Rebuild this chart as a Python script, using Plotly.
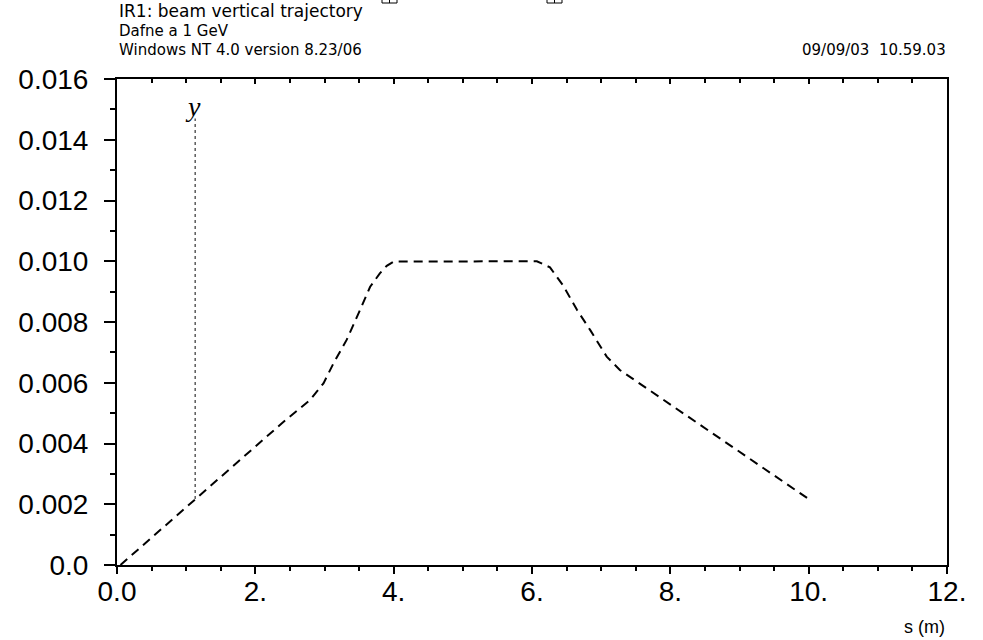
import plotly.graph_objects as go

# ---- data ----
s_traj = [0.05, 1.13, 2.38, 2.79, 2.985, 3.13, 3.32, 3.515, 3.66, 3.80, 3.90, 4.0,
          6.07, 6.26, 6.45, 6.65, 6.84, 7.08, 7.27, 10.02]
y_traj = [0.0, 0.00217, 0.00466, 0.00543, 0.00598, 0.00664, 0.00741, 0.0084, 0.00916,
          0.0096, 0.00985, 0.00999, 0.01, 0.0098, 0.0092, 0.0084, 0.00774, 0.00686,
          0.00642, 0.00214]
s_marker = [1.13, 1.13]
y_marker = [0.00217, 0.0147]

x_tickvals = [0, 2, 4, 6, 8, 10, 12]
x_ticktext = ["0.0", "2.", "4.", "6.", "8.", "10.", "12."]
y_tickvals = [0, 0.002, 0.004, 0.006, 0.008, 0.010, 0.012, 0.014, 0.016]
y_ticktext = ["0.0", "0.002", "0.004", "0.006", "0.008", "0.010", "0.012", "0.014", "0.016"]

title_lines = ["IR1: beam vertical trajectory", "Dafne a 1 GeV", "Windows NT 4.0 version 8.23/06"]
date_text = "09/09/03  10.59.03"
x_title = "s (m)"
curve_label = "y"

W, H = 983, 640
L, R, T, B = 117, 36, 79, 75
PW, PH = W - L - R, H - T - B

def py(p):  # pixel y -> paper y
    return (H - B - p) / PH

def px(p):  # pixel x -> paper x
    return (p - L) / PW

FONT = "Liberation Sans"
HEAD = "DejaVu Sans"

fig = go.Figure()
fig.add_trace(go.Scatter(x=s_traj, y=y_traj, mode="lines",
                         line=dict(color="black", width=2, dash="9px,6px"),
                         showlegend=False, hoverinfo="skip"))
fig.add_trace(go.Scatter(x=s_marker, y=y_marker, mode="lines", xaxis="x2",
                         line=dict(color="#333", width=1.2, dash="dot"),
                         showlegend=False, hoverinfo="skip"))

font_ticks = dict(family=FONT, size=28, color="black")

fig.update_layout(
    width=W, height=H,
    margin=dict(l=L, r=R, t=T, b=B, autoexpand=False),
    paper_bgcolor="white", plot_bgcolor="white",
    xaxis=dict(range=[0, 12], tickvals=x_tickvals, ticktext=x_ticktext,
               ticks="outside", ticklen=7, tickwidth=2, tickcolor="black",
               showline=True, linecolor="black", linewidth=2,
               showgrid=False, zeroline=False, tickfont=font_ticks,
               ticklabelstandoff=-7,
               minor=dict(dtick=0.5, ticks="outside", ticklen=4, tickwidth=2,
                          tickcolor="black", showgrid=False)),
    xaxis2=dict(range=[0, 12], overlaying="x", side="top", anchor="y",
                tickvals=x_tickvals, showticklabels=False,
                ticks="inside", ticklen=5, tickwidth=2, tickcolor="black",
                showline=True, linecolor="black", linewidth=2,
                showgrid=False, zeroline=False,
                minor=dict(dtick=0.5, ticks="inside", ticklen=4, tickwidth=2,
                           tickcolor="black", showgrid=False)),
    yaxis=dict(range=[0, 0.016], tickvals=y_tickvals, ticktext=y_ticktext,
               ticks="outside", ticklen=11, tickwidth=2, tickcolor="black",
               showline=True, linecolor="black", linewidth=2, mirror=True,
               showgrid=False, zeroline=False, tickfont=font_ticks,
               ticklabelstandoff=10,
               minor=dict(dtick=0.001, ticks="outside", ticklen=5, tickwidth=2,
                          tickcolor="black", showgrid=False)),
)

ann = []
for txt, p, sz in zip(title_lines, [11, 31, 50], [17, 15, 15]):
    ann.append(dict(text=txt, xref="paper", yref="paper", x=px(117), y=py(p),
                    xanchor="left", yanchor="middle", showarrow=False,
                    font=dict(family=HEAD, size=sz, color="black")))
ann.append(dict(text=date_text.replace("  ", "&nbsp;&nbsp;"), xref="paper", yref="paper",
                x=px(948), y=py(50), xanchor="right", yanchor="middle", showarrow=False,
                font=dict(family=HEAD, size=15, color="black")))
ann.append(dict(text=x_title, xref="paper", yref="paper", x=px(947), y=py(627),
                xanchor="right", yanchor="middle", showarrow=False,
                font=dict(family=FONT, size=18, color="black")))
ann.append(dict(text="<i>" + curve_label + "</i>", xref="x", yref="y",
                x=1.1, y=0.0151, xanchor="center", yanchor="middle", showarrow=False,
                font=dict(family="Liberation Serif", size=28, color="black")))
fig.update_layout(annotations=ann)

# small cut-off boxes at the very top
shapes = []
for x0, x1 in [(382, 397), (547, 562)]:
    shapes.append(dict(type="rect", xref="paper", yref="paper",
                       x0=px(x0), x1=px(x1), y0=py(3), y1=py(-6),
                       line=dict(color="black", width=1)))
    xm = (x0 + x1) / 2
    shapes.append(dict(type="line", xref="paper", yref="paper",
                       x0=px(xm), x1=px(xm), y0=py(3), y1=py(-6),
                       line=dict(color="black", width=1)))
fig.update_layout(shapes=shapes)

fig.write_html("out.html")
